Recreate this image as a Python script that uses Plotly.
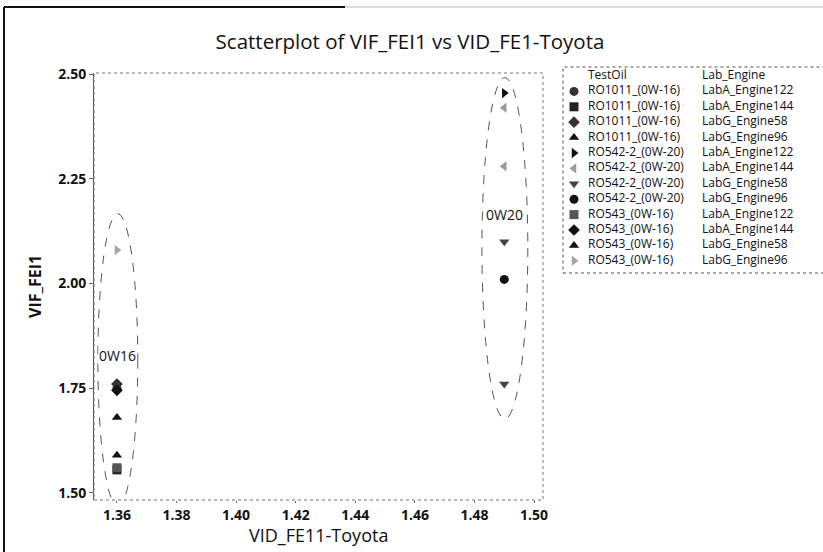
import plotly.graph_objects as go

# ---------------- data ----------------
test_oils = ["RO1011_(0W-16)", "RO1011_(0W-16)", "RO1011_(0W-16)", "RO1011_(0W-16)",
             "RO542-2_(0W-20)", "RO542-2_(0W-20)", "RO542-2_(0W-20)", "RO542-2_(0W-20)",
             "RO543_(0W-16)", "RO543_(0W-16)", "RO543_(0W-16)", "RO543_(0W-16)"]
lab_engines = ["LabA_Engine122", "LabA_Engine144", "LabG_Engine58", "LabG_Engine96",
               "LabA_Engine122", "LabA_Engine144", "LabG_Engine58", "LabG_Engine96",
               "LabA_Engine122", "LabA_Engine144", "LabG_Engine58", "LabG_Engine96"]
x_values = [[1.36], [1.36], [1.36], [1.36],
            [1.49], [1.49, 1.49], [1.49, 1.49], [1.49],
            [1.36], [1.36], [1.36], [1.36]]
y_values = [[1.75], [1.555], [1.76], [1.68],
            [2.455], [2.42, 2.28], [2.10, 1.76], [2.01],
            [1.56], [1.745], [1.59], [2.08]]
x_ticks = [1.36, 1.38, 1.40, 1.42, 1.44, 1.46, 1.48, 1.50]
y_ticks = [1.50, 1.75, 2.00, 2.25, 2.50]
group_labels = ["0W16", "0W20"]
group_label_x = [1.3603, 1.490]
group_label_y = [1.828, 2.165]

# ---------------- styles ----------------
symbols = ["circle", "square", "diamond", "triangle-up",
           "triangle-right", "triangle-left", "triangle-down", "circle",
           "square", "diamond", "triangle-up", "triangle-right"]
colors = ["#333333", "#222222", "#333333", "#111111",
          "#111111", "#9a9a9a", "#444444", "#111111",
          "#555555", "#111111", "#111111", "#a8a8a8"]

W, H = 823, 552
PL, PR, PT, PB = 94, 543, 73, 500          # plot area in pixels
LL, LR, LT, LB = 563, 823, 67, 273         # legend box in pixels

FONT = "Open Sans"

fig = go.Figure()

for i in range(len(test_oils)):
    fig.add_trace(go.Scatter(
        x=x_values[i], y=y_values[i], mode="markers",
        marker=dict(symbol=symbols[i], color=colors[i], size=9, line=dict(width=0)),
        name=test_oils[i] + " " + lab_engines[i], showlegend=False,
        xaxis="x", yaxis="y"))

# ---------------- hand-made two-column legend ----------------
row_h = 15.4
title_y = 76
rows_y = [title_y + row_h * (i + 1) for i in range(len(test_oils))]
sym_x, col1_x, col2_x = 574, 588, 702

fig.add_trace(go.Scatter(
    x=[sym_x] * len(test_oils), y=rows_y, mode="markers",
    marker=dict(symbol=symbols, color=colors, size=9, line=dict(width=0)),
    showlegend=False, hoverinfo="skip", xaxis="x2", yaxis="y2"))
fig.add_trace(go.Scatter(
    x=[col1_x] * (len(test_oils) + 1), y=[title_y] + rows_y, mode="text",
    text=["TestOil"] + test_oils, textposition="middle right",
    textfont=dict(family=FONT, size=12, color="#111111"),
    showlegend=False, hoverinfo="skip", xaxis="x2", yaxis="y2"))
fig.add_trace(go.Scatter(
    x=[col2_x] * (len(lab_engines) + 1), y=[title_y] + rows_y, mode="text",
    text=["Lab_Engine"] + lab_engines, textposition="middle right",
    textfont=dict(family=FONT, size=12, color="#111111"),
    showlegend=False, hoverinfo="skip", xaxis="x2", yaxis="y2"))

# ---------------- layout ----------------
fig.update_layout(
    width=W, height=H,
    margin=dict(l=0, r=0, t=0, b=0),
    paper_bgcolor="white", plot_bgcolor="white",
    font=dict(family=FONT, color="#111111"),
    title=dict(text="Scatterplot of VIF_FEI1 vs VID_FE1-Toyota",
               xref="container", yref="container",
               x=410 / W, y=1 - 42 / H, xanchor="center", yanchor="middle",
               font=dict(family=FONT, size=20.5, color="#111111")),
    xaxis=dict(domain=[PL / W, PR / W], range=[1.3523, 1.503],
               tickvals=x_ticks, tickformat=".2f",
               ticks="outside", ticklen=2, tickcolor="#666666",
               tickfont=dict(family=FONT, size=14, color="#111111", weight="bold"),
               showgrid=False, zeroline=False, showline=False,
               automargin=False, fixedrange=True, anchor="y"),
    yaxis=dict(domain=[1 - PB / H, 1 - PT / H], range=[1.483, 2.503],
               tickvals=y_ticks, tickformat=".2f",
               ticks="outside", ticklen=4, tickcolor="#666666",
               tickfont=dict(family=FONT, size=14, color="#111111", weight="bold"),
               showgrid=False, zeroline=False, showline=True, linecolor="#555555",
               linewidth=1, automargin=False, fixedrange=True, anchor="x"),
    xaxis2=dict(domain=[LL / W, LR / W], range=[LL, LR], visible=False,
                fixedrange=True, anchor="y2"),
    yaxis2=dict(domain=[1 - LB / H, 1 - LT / H], range=[LB, LT], visible=False,
                fixedrange=True, anchor="x2"),
    showlegend=False,
)

# axis titles
fig.add_annotation(text="VID_FE11-Toyota", xref="paper", yref="paper",
                   x=(PL + PR) / 2 / W, y=1 - 535 / H, xanchor="center", yanchor="middle",
                   showarrow=False, font=dict(family=FONT, size=18, color="#111111"))
fig.add_annotation(text="VIF_FEI1", xref="paper", yref="paper",
                   x=35 / W, y=1 - 287 / H, xanchor="center", yanchor="middle",
                   textangle=-90, showarrow=False,
                   font=dict(family=FONT, size=16, color="#111111", weight="bold"))

# group ellipses
ellipses = [(1.3536, 1.3670, 1.468, 2.167), (1.4825, 1.4979, 1.677, 2.492)]
for (ex0, ex1, ey0, ey1) in ellipses:
    fig.add_shape(type="circle", xref="x", yref="y", x0=ex0, x1=ex1, y0=ey0, y1=ey1,
                  line=dict(color="#555555", width=1, dash="dash"), layer="below")

for lbl, lx, ly in zip(group_labels, group_label_x, group_label_y):
    fig.add_annotation(text=lbl, x=lx, y=ly, xref="x", yref="y", showarrow=False,
                       bgcolor="white", borderpad=0,
                       font=dict(family=FONT, size=14, color="#111111"))

# plot frame (dotted)
fig.add_shape(type="rect", xref="x domain", yref="y domain", x0=0, x1=1, y0=0, y1=1,
              line=dict(color="#777777", width=1, dash="dot"))
# legend frame (dotted)
fig.add_shape(type="rect", xref="paper", yref="paper",
              x0=LL / W, x1=1.01, y0=1 - LB / H, y1=1 - LT / H,
              line=dict(color="#555555", width=1, dash="dot"))
# outer figure border pieces (left and top)
fig.add_shape(type="line", xref="paper", yref="paper", x0=4 / W, x1=4 / W, y0=0, y1=1 - 7 / H,
              line=dict(color="#111111", width=2))
fig.add_shape(type="line", xref="paper", yref="paper", x0=4 / W, x1=345 / W,
              y0=1 - 7 / H, y1=1 - 7 / H, line=dict(color="#111111", width=2))
fig.add_shape(type="line", xref="paper", yref="paper", x0=345 / W, x1=1,
              y0=1 - 7 / H, y1=1 - 7 / H, line=dict(color="#bbbbbb", width=1))

fig.write_html("out.html")
